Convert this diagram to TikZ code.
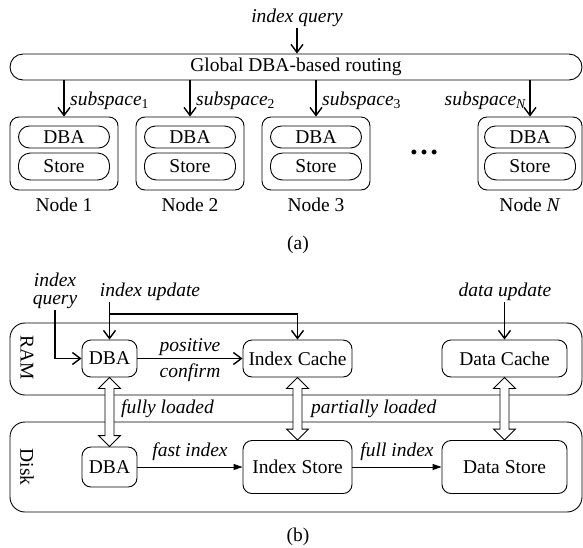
\documentclass[tikz,border=0pt]{standalone}
\usepackage{fontspec}
\setmainfont{Liberation Serif}
\usetikzlibrary{arrows.meta,calc}
\newcommand\hollowdbl[2]{%
  \draw[hollow] (#1.south) -- ++(11,11) -- ++(-6.5,0) -- ($(#2.north)+(4.5,-11)$) -- ++(6.5,0) -- (#2.north) -- ++(-11,-11) -- ++(6.5,0) -- ($(#1.south)+(-4.5,11)$) -- ++(-6.5,0) -- cycle;}
\begin{document}
\begin{tikzpicture}[x=1pt,y=-1pt,
  every node/.style={font=\fontsize{19.5}{21}\selectfont},
  lbl/.style={inner sep=1pt, font=\fontsize{19.5}{18}\selectfont\itshape},
  rbox/.style={draw, line width=0.9pt, inner sep=0pt, rounded corners=9pt},
  region/.style={draw, line width=0.9pt, inner sep=0pt, rounded corners=15pt},
  arr/.style={line width=1.4pt, -{Straight Barb[length=8pt,width=12pt]}},
  tarr/.style={line width=0.9pt, -{Triangle[length=9pt,width=6pt]}},
  hollow/.style={draw, line width=0.9pt, fill=white, line join=miter}]
\useasboundingbox (0,0) rectangle (583,547);

% ---------- (a) ----------
\node[lbl] (iq) at (297,18) {index query};
\node[rbox, rounded corners=13pt, minimum width=572pt, minimum height=26pt] (route) at (296,67) {Global DBA-based routing};
\draw[arr] (iq.south) -- (iq.south |- route.north);

\foreach \nm/\x in {1/64, 2/190, 3/316}{
  \node[rbox, minimum width=108pt, minimum height=73pt] (n\nm) at (\x,153.5) {};
  \node[rbox, rounded corners=11pt, minimum width=91pt, minimum height=22pt] (d\nm) at (\x,137) {DBA};
  \node[rbox, rounded corners=12pt, minimum width=91pt, minimum height=27pt] (s\nm) at (\x,166.5) {Store};
  \node (l\nm) at (\x,205) {Node \nm};
  \draw[arr] (route.south -| n\nm.north) -- (n\nm.north);
  \node[lbl, anchor=west] (sub\nm) at (\x+5,101) {subspace\textsubscript{\upshape\nm}};
}
\node[rbox, minimum width=104pt, minimum height=73pt] (nN) at (530,153.5) {};
\node[rbox, rounded corners=11pt, minimum width=91pt, minimum height=22pt] (dN) at (530,137) {DBA};
\node[rbox, rounded corners=12pt, minimum width=91pt, minimum height=27pt] (sN) at (530,166.5) {Store};
\node (lN) at (530,205) {Node \textit{N}};
\draw[arr] (route.south -| nN.north) -- (nN.north);
\node[lbl, anchor=east] (subN) at (527,101) {subspace\textsubscript{N}};
\node (dots) at (424,152) {\fontsize{30}{30}\selectfont\bfseries …};
\node (capa) at (298,245) {(a)};

% ---------- (b) ----------
\node[region, minimum width=572pt, minimum height=72pt] (ram) at (296,359) {};
\node[region, minimum width=572pt, minimum height=90pt] (disk) at (296,467) {};
\node[rotate=-90] (ramlbl) at (27,358) {RAM};
\node[rotate=-90] (disklbl) at (27,467) {Disk};

\node[rbox, minimum width=55pt, minimum height=37pt] (dba1) at (109.5,358.5) {DBA};
\node[rbox, minimum width=109pt, minimum height=37pt] (ic) at (297.5,358.5) {Index Cache};
\node[rbox, minimum width=125pt, minimum height=37pt] (dc) at (504.5,358.5) {Data Cache};
\node[rbox, minimum width=55pt, minimum height=40pt] (dba2) at (109.5,467) {DBA};
\node[rbox, minimum width=109pt, minimum height=53pt] (is) at (297.5,467) {Index Store};
\node[rbox, minimum width=125pt, minimum height=53pt] (ds) at (504.5,467) {Data Store};

\node[lbl, align=center] (iq2) at (55,291) {index\\query};
\node[lbl] (iu) at (150,292) {index update};
\node[lbl] (du) at (505,292) {data update};

\draw[arr] (iq2.south) |- (dba1.west);
\draw[arr] (iu.south -| dba1.north) -- (dba1.north);
\coordinate (brk) at (109.5,314);
\draw[arr] (brk) -| (ic.north);
\draw[arr] (du.south -| dc.north) -- (dc.north);
\draw[arr] (dba1) -- node[lbl, above=1pt] (pos) {positive} node[lbl, below=4pt] (conf) {confirm} (ic);
\draw[tarr] (dba2) -- node[lbl, above=5pt] (fi) {fast index} (is);
\draw[tarr] (is) -- node[lbl, above=5pt] (fui) {full index} (ds);

\hollowdbl{dba1}{dba2}
\hollowdbl{ic}{is}
\hollowdbl{dc}{ds}

\node[lbl, anchor=west] (fl) at (120,409) {fully loaded};
\node[lbl, anchor=west] (pl) at (310,409) {partially loaded};
\node (capb) at (298,537) {(b)};
\end{tikzpicture}
\end{document}
